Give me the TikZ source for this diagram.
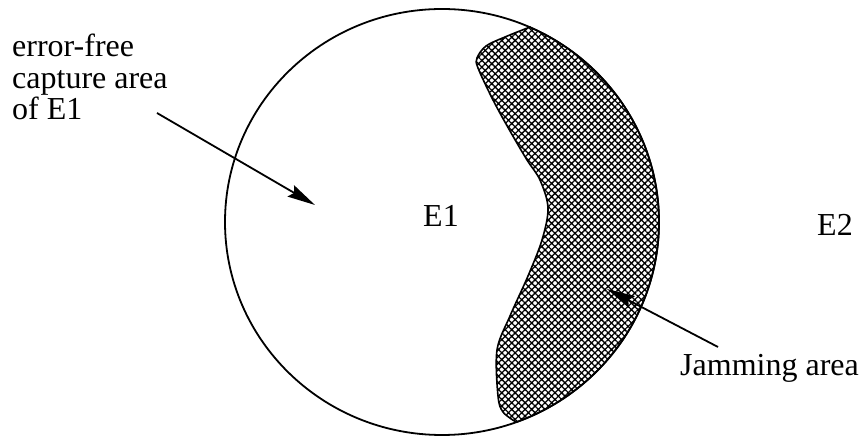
\documentclass[tikz,border=0pt]{standalone}
\usepackage{fontspec}
\setmainfont{Liberation Serif}
\usetikzlibrary{arrows.meta,patterns.meta,calc}
\tikzset{
  lbl/.style={inner sep=0pt, font={\fontsize{32}{31.5}\selectfont}},
  outline/.style={line width=1.8pt, black},
  pointer/.style={line width=1.8pt, -{Stealth[length=28pt,width=13pt,inset=4pt]}},
  jam/.style={line width=1.6pt, pattern={Hatch[angle=45,distance=4.7pt,line width=1.3pt]}}
}
\begin{document}
\begin{tikzpicture}[x=1pt,y=1pt]
\useasboundingbox (0,0) rectangle (863,436);
% ellipse-like circle
\coordinate (c) at (442,214);
\draw[outline] (c) ellipse[x radius=217, y radius=213];
% jamming area
\draw[jam] ($(c)+(66:217 and 213)$) arc[start angle=66, end angle=-70, x radius=217, y radius=213]
  -- plot[smooth, tension=0.55] coordinates {(516,14) (503,24) (498,40) (497,86) (510,120) (528,160) (542,196) (548,228) (540,256) (527,276) (510,305) (493,336) (478,368) (477,378) (486,390) (505,399) (530,409)} -- cycle;
% labels
\node[lbl, anchor=north west, align=left] (free) at (12,402) {error-free\\capture area\\of E1};
\node[lbl] (e1) at (441,220) {E1};
\node[lbl] (e2) at (835,211) {E2};
\node[lbl, anchor=base east] (jamlbl) at (859,60) {Jamming area};
% arrows
\coordinate (a1s) at (157,323);
\coordinate (a1e) at (315,231);
\coordinate (a2s) at (718,89);
\coordinate (a2e) at (607,147);
\draw[pointer] (a1s) -- (a1e);
\draw[pointer] (a2s) -- (a2e);
\end{tikzpicture}
\end{document}
